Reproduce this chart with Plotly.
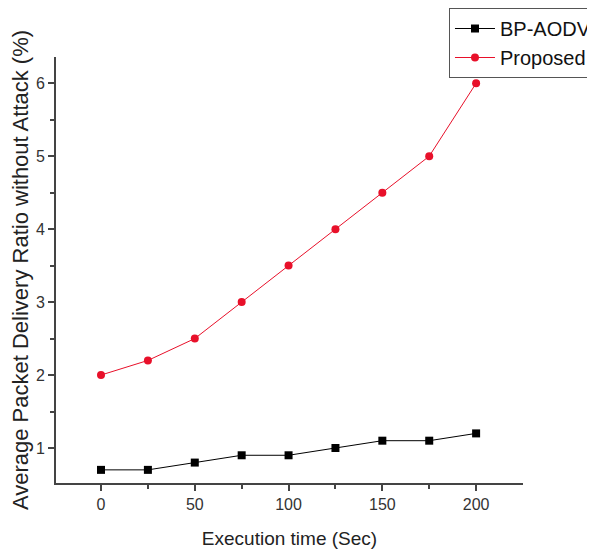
import plotly.graph_objects as go

exec_time = [0, 25, 50, 75, 100, 125, 150, 175, 200]
bp_aodv = [0.7, 0.7, 0.8, 0.9, 0.9, 1.0, 1.1, 1.1, 1.2]
proposed = [2.0, 2.2, 2.5, 3.0, 3.5, 4.0, 4.5, 5.0, 6.0]
x_ticks = [0, 50, 100, 150, 200]
y_ticks = [1, 2, 3, 4, 5, 6]

fig = go.Figure()
fig.add_trace(go.Scatter(x=exec_time, y=bp_aodv, name="BP-AODV", mode="lines+markers",
                         line=dict(color="black", width=1),
                         marker=dict(symbol="square", size=8, color="black")))
fig.add_trace(go.Scatter(x=exec_time, y=proposed, name="Proposed", mode="lines+markers",
                         line=dict(color="#e8102a", width=1),
                         marker=dict(symbol="circle", size=8, color="#e8102a")))

font = "Liberation Sans, Arial, sans-serif"
fig.update_layout(
    width=587, height=545,
    margin=dict(l=48, r=72, t=49, b=70, autoexpand=False),
    plot_bgcolor="white", paper_bgcolor="white",
    font=dict(family=font, color="#222"),
    showlegend=True,
    legend=dict(x=0.8415, y=1.115, xanchor="left", yanchor="top",
                bgcolor="white", bordercolor="#555", borderwidth=1,
                font=dict(size=20, color="#111"), tracegroupgap=0,
                itemwidth=40),
    xaxis=dict(range=[-24, 225], tickvals=x_ticks, showgrid=False, zeroline=False,
               automargin=False,
               showline=True, linecolor="#444", linewidth=2,
               ticks="outside", ticklen=6, tickcolor="#444", tickwidth=1.5,
               tickfont=dict(size=16, color="#333"),
               minor=dict(tickvals=[25, 75, 125, 175], ticks="outside", ticklen=4, tickcolor="#444"),
               title=dict(text="Execution time (Sec)", font=dict(size=19, color="#222"), standoff=19)),
    yaxis=dict(range=[0.52, 6.36], tickvals=y_ticks, showgrid=False, zeroline=False,
               automargin=False,
               showline=True, linecolor="#444", linewidth=2,
               ticks="outside", ticklen=6, tickcolor="#444", tickwidth=1.5,
               tickfont=dict(size=16, color="#333"),
               minor=dict(tickvals=[1.5, 2.5, 3.5, 4.5, 5.5], ticks="outside", ticklen=4, tickcolor="#444"),
               title=dict(text="Average Packet Delivery Ratio without Attack (%)",
                          font=dict(size=22, color="#222"), standoff=4)),
)

fig.write_html("out.html")
